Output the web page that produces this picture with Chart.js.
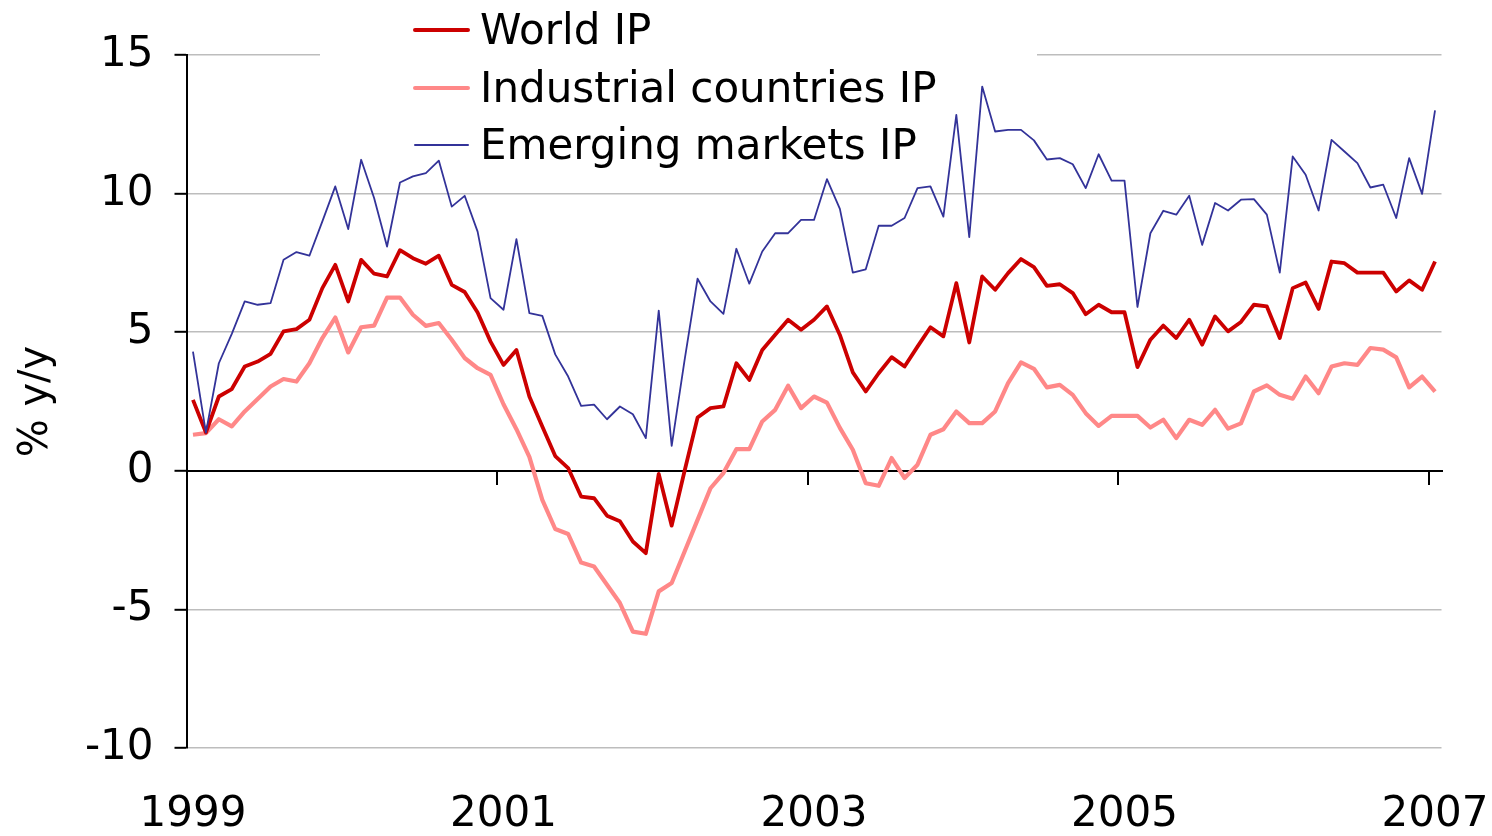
<!DOCTYPE html>
<html>
<head>
<meta charset="utf-8">
<script src="https://cdn.jsdelivr.net/npm/chart.js@4.4.1/dist/chart.umd.min.js"></script>
<style>
html, body { margin: 0; padding: 0; background: #ffffff; }
#wrap { width: 1492px; height: 836px; position: relative; }
canvas { display: block; }
</style>
</head>
<body>
<div id="wrap"><canvas id="c" width="1492" height="836"></canvas></div>
<script>
// ---- Data ----
const yearLabels = ['1999', '2001', '2003', '2005', '2007'];
const monthNames = ['Jan','Feb','Mar','Apr','May','Jun','Jul','Aug','Sep','Oct','Nov','Dec'];
// monthly categories, Jan 1999 .. Jan 2007
const categories = [];
for (let yr = 1999; yr <= 2007; yr++) {
  for (let m = 0; m < 12; m++) {
    if (yr === 2007 && m > 0) break;
    categories.push(monthNames[m] + ' ' + yr);
  }
}

const worldIP = [
  2.56, 1.38, 2.68, 2.95, 3.76, 3.94, 4.22, 5.03, 5.11, 5.45,
  6.59, 7.43, 6.11, 7.61, 7.11, 7.01, 7.96, 7.67, 7.47, 7.76,
  6.71, 6.45, 5.71, 4.66, 3.82, 4.36, 2.68, 1.60, 0.53, 0.10,
  -0.93, -0.99, -1.62, -1.82, -2.55, -2.97, -0.11, -1.98, 0.00, 1.92,
  2.26, 2.32, 3.88, 3.28, 4.36, 4.91, 5.45, 5.09, 5.45, 5.93,
  4.90, 3.55, 2.86, 3.52, 4.10, 3.76, 4.48, 5.18, 4.85, 6.77,
  4.63, 7.01, 6.53, 7.13, 7.64, 7.35, 6.67, 6.73, 6.41, 5.65,
  5.99, 5.72, 5.72, 3.74, 4.73, 5.24, 4.79, 5.45, 4.55, 5.57,
  5.03, 5.37, 5.99, 5.93, 4.79, 6.59, 6.79, 5.84, 7.55, 7.49,
  7.15, 7.15, 7.15, 6.47, 6.87, 6.53, 7.55
];

const industrialIP = [
  1.30, 1.36, 1.86, 1.60, 2.14, 2.59, 3.04, 3.31, 3.22, 3.88,
  4.79, 5.53, 4.27, 5.18, 5.24, 6.25, 6.25, 5.63, 5.23, 5.33,
  4.73, 4.07, 3.70, 3.46, 2.40, 1.50, 0.50, -1.05, -2.10, -2.28,
  -3.31, -3.45, -4.11, -4.77, -5.80, -5.88, -4.35, -4.05, -2.91, -1.77,
  -0.63, -0.08, 0.78, 0.78, 1.78, 2.20, 3.07, 2.26, 2.68, 2.46,
  1.55, 0.76, -0.45, -0.54, 0.46, -0.26, 0.22, 1.30, 1.50, 2.14,
  1.72, 1.72, 2.14, 3.16, 3.91, 3.68, 3.01, 3.10, 2.74, 2.08,
  1.62, 1.98, 1.98, 1.98, 1.56, 1.84, 1.18, 1.84, 1.66, 2.20,
  1.52, 1.71, 2.86, 3.08, 2.74, 2.60, 3.40, 2.80, 3.76, 3.88,
  3.82, 4.43, 4.37, 4.09, 3.01, 3.40, 2.86
];

const emergingIP = [
  4.30, 1.38, 3.88, 4.94, 6.11, 5.99, 6.05, 7.61, 7.89, 7.76,
  9.00, 10.26, 8.72, 11.22, 9.84, 8.09, 10.40, 10.62, 10.74, 11.19,
  9.53, 9.92, 8.63, 6.23, 5.81, 8.36, 5.69, 5.59, 4.20, 3.40,
  2.34, 2.39, 1.86, 2.32, 2.04, 1.18, 5.78, 0.90, 4.00, 6.93,
  6.11, 5.66, 8.01, 6.75, 7.91, 8.57, 8.57, 9.05, 9.05, 10.52,
  9.45, 7.15, 7.27, 8.84, 8.84, 9.12, 10.20, 10.26, 9.17, 12.84,
  8.43, 13.86, 12.24, 12.30, 12.30, 11.92, 11.23, 11.28, 11.06, 10.20,
  11.42, 10.47, 10.47, 5.91, 8.57, 9.38, 9.24, 9.92, 8.15, 9.66,
  9.39, 9.78, 9.80, 9.24, 7.15, 11.34, 10.68, 9.39, 11.94, 11.52,
  11.10, 10.22, 10.32, 9.12, 11.28, 9.99, 13.00
];

const seriesNames = ['World IP', 'Industrial countries IP', 'Emerging markets IP'];
const yTicks = [-10, -5, 0, 5, 10, 15];

// ---- Styling ----
const FONT = 'DejaVu Sans';
const COLORS = ['#CC0000', '#FF8888', '#333399'];

const legendPlugin = {
  id: 'boxLegend',
  beforeDatasetsDraw(chart) {
    const ctx = chart.ctx;
    ctx.save();
    // legend box (white, hides the gridline behind it)
    ctx.fillStyle = '#ffffff';
    ctx.fillRect(320, 0, 717, 170);
    const sampleY = [30, 88, 145];
    const baseY = [43.5, 101.5, 158.5];
    chart.data.datasets.forEach((ds, i) => {
      ctx.strokeStyle = ds.borderColor;
      ctx.lineWidth = ds.legendLineWidth;
      ctx.lineCap = 'round';
      ctx.beginPath();
      ctx.moveTo(415, sampleY[i]);
      ctx.lineTo(468, sampleY[i]);
      ctx.stroke();
      ctx.fillStyle = '#000000';
      ctx.font = '42px "' + FONT + '"';
      ctx.textAlign = 'left';
      ctx.textBaseline = 'alphabetic';
      ctx.fillText(ds.label, 480, baseY[i]);
    });
    ctx.restore();
  }
};

new Chart(document.getElementById('c'), {
  type: 'line',
  data: {
    labels: categories,
    datasets: [
      { label: seriesNames[0], data: worldIP, borderColor: COLORS[0], borderWidth: 3.8,
        legendLineWidth: 4, pointRadius: 0, fill: false, tension: 0, borderJoinStyle: 'round', order: 1 },
      { label: seriesNames[1], data: industrialIP, borderColor: COLORS[1], borderWidth: 4.2,
        legendLineWidth: 4, pointRadius: 0, fill: false, tension: 0, borderJoinStyle: 'round', order: 2 },
      { label: seriesNames[2], data: emergingIP, borderColor: COLORS[2], borderWidth: 1.8,
        legendLineWidth: 2, pointRadius: 0, fill: false, tension: 0, borderJoinStyle: 'round', order: 0 }
    ]
  },
  options: {
    responsive: false,
    animation: false,
    events: [],
    layout: { padding: { top: 55, right: 50.5, bottom: 0, left: 0 } },
    plugins: { legend: { display: false }, tooltip: { enabled: false }, title: { display: false } },
    scales: {
      x: {
        type: 'category',
        position: 'bottom',
        offset: true,
        grid: { display: false, drawTicks: false },
        border: { display: false },
        ticks: {
          autoSkip: false, maxRotation: 0, minRotation: 0, padding: 42,
          color: '#000000', font: { family: FONT, size: 42 },
          callback: (v, i) => (i % 24 === 0 ? yearLabels[i / 24] : '')
        },
        afterFit: (s) => { s.height = 88; s.paddingLeft = 0; s.paddingRight = 0; }
      },
      x0: {
        type: 'category',
        position: { y: 0 },
        offset: true,
        grid: {
          display: true, offset: true, drawOnChartArea: false, drawTicks: true, tickLength: 13,
          lineWidth: 2,
          color: (c) => (c.index % 24 === 0 && c.index < categories.length ? '#000000' : 'rgba(0,0,0,0)')
        },
        border: { display: true, color: '#000000', width: 2 },
        ticks: { display: false, autoSkip: false },
        afterFit: (s) => { s.height = 0; s.paddingLeft = 0; s.paddingRight = 0; }
      },
      y: {
        type: 'linear',
        min: -10, max: 15,
        afterBuildTicks: (s) => { s.ticks = yTicks.map(v => ({ value: v })); },
        ticks: { padding: 21, color: '#000000', font: { family: FONT, size: 42 } },
        grid: { color: '#bdbdbd', lineWidth: 1.6, tickColor: '#000000', tickLength: 12, tickWidth: 2 },
        border: { display: true, color: '#000000', width: 2 },
        title: { display: true, text: '% y/y', color: '#000000', font: { family: FONT, size: 40 }, padding: { top: 13, bottom: 0 } },
        afterFit: (s) => { s.width = 186.5; }
      }
    }
  },
  plugins: [legendPlugin]
});
</script>
</body>
</html>
